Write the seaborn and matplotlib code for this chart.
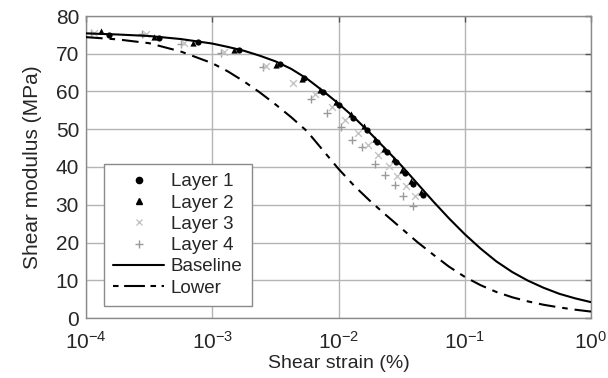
import matplotlib
matplotlib.use("Agg")
import matplotlib.pyplot as plt
import seaborn as sns
import numpy as np
import pandas as pd
from matplotlib.lines import Line2D

# ---- data ----
curve_log_strain = [-4.0, -3.75, -3.5, -3.25, -3.0, -2.875, -2.75, -2.625, -2.5, -2.375,
                    -2.25, -2.125, -2.0, -1.875, -1.75, -1.625, -1.5, -1.375, -1.25,
                    -1.125, -1.0, -0.875, -0.75, -0.625, -0.5, -0.375, -0.25, -0.125, 0.0]
baseline_G = [75.4, 75.1, 74.7, 73.9, 72.7, 71.8, 70.8, 69.5, 68.0, 66.0,
              63.4, 60.2, 56.8, 53.1, 49.0, 44.7, 40.3, 35.6, 30.9,
              26.4, 22.2, 18.4, 15.0, 12.2, 9.9, 8.0, 6.4, 5.2, 4.2]
lower_G = [74.4, 73.8, 72.8, 70.6, 67.5, 65.3, 62.7, 59.8, 56.6, 53.2,
           49.5, 44.5, 39.5, 35.0, 31.0, 27.3, 23.7, 20.1, 16.8,
           13.6, 10.9, 8.7, 6.9, 5.5, 4.4, 3.5, 2.8, 2.2, 1.7]

layer1_strain = [1.51e-4, 3.81e-4, 7.76e-4, 1.62e-3, 3.44e-3, 5.33e-3, 7.59e-3, 1.01e-2,
                 1.31e-2, 1.67e-2, 2.03e-2, 2.41e-2, 2.85e-2, 3.36e-2, 3.91e-2, 4.70e-2]
layer1_G = [74.9, 74.3, 73.2, 71.1, 67.4, 63.7, 59.9, 56.5,
            53.1, 49.9, 46.6, 44.0, 41.3, 38.3, 35.4, 32.5]

layer2_strain = [1.31e-4, 3.47e-4, 7.08e-4, 1.50e-3, 3.20e-3, 5.10e-3, 7.2e-3, 9.6e-3,
                 1.25e-2, 1.6e-2, 1.95e-2, 2.3e-2, 2.75e-2, 3.2e-2, 3.75e-2, 4.5e-2]
layer2_G = [75.9, 74.4, 72.8, 70.9, 66.9, 63.4, 60.5, 57.3,
            54.0, 50.8, 47.5, 44.8, 42.0, 39.2, 36.3, 33.3]

layer3_strain = [1.16e-4, 2.99e-4, 5.97e-4, 1.24e-3, 2.67e-3, 4.34e-3, 6.52e-3, 8.83e-3,
                 1.12e-2, 1.44e-2, 1.72e-2, 2.07e-2, 2.52e-2, 2.92e-2, 3.43e-2, 4.04e-2]
layer3_G = [75.5, 75.3, 72.8, 70.4, 66.7, 62.2, 59.4, 55.9,
            52.4, 48.9, 45.8, 43.1, 40.2, 37.6, 34.9, 32.3]

layer4_strain = [1.10e-4, 2.78e-4, 5.67e-4, 1.17e-3, 2.53e-3, 6.01e-3, 8.06e-3, 1.04e-2,
                 1.29e-2, 1.53e-2, 1.95e-2, 2.33e-2, 2.80e-2, 3.26e-2, 3.87e-2]
layer4_G = [75.4, 75.2, 72.7, 70.2, 66.4, 58.1, 54.2, 50.6,
            47.1, 45.2, 40.9, 37.8, 35.2, 32.3, 29.8]

x_ticks = [1e-4, 1e-3, 1e-2, 1e-1, 1e0]
x_tick_labels = [r"$10^{-4}$", r"$10^{-3}$", r"$10^{-2}$", r"$10^{-1}$", r"$10^{0}$"]
y_ticks = [0, 10, 20, 30, 40, 50, 60, 70, 80]

# ---- style ----
sns.set_style("white")
plt.rcParams["font.family"] = ["Liberation Sans", "DejaVu Sans"]
plt.rcParams["mathtext.fontset"] = "custom"
plt.rcParams["mathtext.rm"] = "Liberation Sans"
plt.rcParams["mathtext.default"] = "regular"
plt.rcParams["lines.scale_dashes"] = False

fig = plt.figure(figsize=(6.08, 3.78), dpi=100)
ax = fig.add_axes([86 / 608, 1 - 318 / 378, 505 / 608, 302 / 378])

curves = pd.DataFrame({"strain": 10.0 ** np.array(curve_log_strain),
                       "base": baseline_G, "low": lower_G})
l1 = pd.DataFrame({"strain": layer1_strain, "G": layer1_G})
l2 = pd.DataFrame({"strain": layer2_strain, "G": layer2_G})
l3 = pd.DataFrame({"strain": layer3_strain, "G": layer3_G})
l4 = pd.DataFrame({"strain": layer4_strain, "G": layer4_G})

ax.set_xscale("log")

sns.scatterplot(data=l4, x="strain", y="G", marker="+", color="#9a9a9a", s=28,
                linewidth=1.0, ax=ax, zorder=3)
sns.scatterplot(data=l3, x="strain", y="G", marker="x", color="#c4c4c4", s=24,
                linewidth=1.0, ax=ax, zorder=3)
sns.lineplot(data=curves, x="strain", y="base", color="black", linewidth=1.5,
             ax=ax, zorder=4, estimator=None, sort=False)
sns.lineplot(data=curves, x="strain", y="low", color="black", linewidth=1.5,
             linestyle=(0, (12, 5, 4, 5)), ax=ax, zorder=4, estimator=None, sort=False)
sns.scatterplot(data=l2, x="strain", y="G", marker="^", color="black", s=20,
                linewidth=0, ax=ax, zorder=5)
sns.scatterplot(data=l1, x="strain", y="G", marker="o", color="black", s=20,
                linewidth=0, ax=ax, zorder=5)

ax.set_xlim(1e-4, 1)
ax.set_ylim(0, 80)
ax.set_xticks(x_ticks)
ax.set_xticklabels(x_tick_labels)
ax.set_yticks(y_ticks)
ax.minorticks_off()
ax.grid(True, color="#b4b4b4", linewidth=1.0)
ax.set_axisbelow(True)
for sp in ax.spines.values():
    sp.set_color("#8a8a8a")
    sp.set_linewidth(1.0)
ax.tick_params(axis="both", direction="in", length=4, width=1, color="#555555",
               labelsize=15, top=True, right=True)
ax.tick_params(axis="x", pad=9)
ax.tick_params(axis="y", pad=5)
ax.set_xlabel("Shear strain (%)", fontsize=14, labelpad=2)
ax.set_ylabel("Shear modulus (MPa)", fontsize=15, labelpad=10)

handles = [
    Line2D([], [], linestyle="none", marker="o", color="black", markersize=4.5),
    Line2D([], [], linestyle="none", marker="^", color="black", markersize=4.5),
    Line2D([], [], linestyle="none", marker="x", color="#c4c4c4", markersize=5),
    Line2D([], [], linestyle="none", marker="+", color="#9a9a9a", markersize=5.5),
    Line2D([], [], color="black", linewidth=1.5),
    Line2D([], [], color="black", linewidth=1.5, linestyle=(0, (4, 4, 15, 4))),
]
labels = ["Layer 1", "Layer 2", "Layer 3", "Layer 4", "Baseline", "Lower"]
leg = ax.legend(handles, labels, loc="lower left", bbox_to_anchor=(18 / 505, 12 / 302),
                fontsize=13.5, frameon=True, fancybox=False, framealpha=1,
                edgecolor="#8a8a8a", handlelength=2.7, handletextpad=0.35,
                labelspacing=0.22, borderpad=0.5, borderaxespad=0)
leg.get_frame().set_linewidth(1.0)

fig.savefig("out.png", dpi=100)
